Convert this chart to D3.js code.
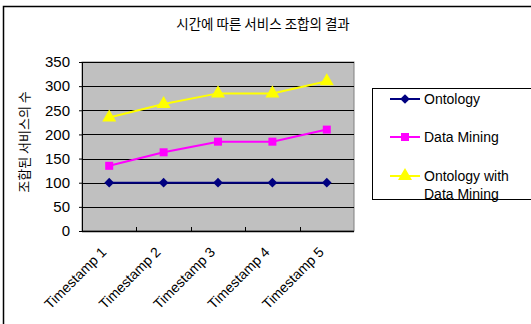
<!DOCTYPE html>
<html>
<head>
<meta charset="utf-8">
<script src="https://cdn.jsdelivr.net/npm/d3@7"></script>
<style>
  body { margin: 0; background: #fff; }
  svg { display: block; }
  text { font-family: "Liberation Sans", Arial, sans-serif; fill: #000; }
  .kr { font-family: "Noto Sans CJK KR", sans-serif; }
</style>
</head>
<body>
<svg id="chart" width="531" height="324"></svg>
<script>
// dati
var categorie = ["Timestamp 1", "Timestamp 2", "Timestamp 3", "Timestamp 4", "Timestamp 5"];
var ontology = [100, 100, 100, 100, 100];
var dataMining = [135, 163, 185, 185, 210];
var ontologyDM = [235, 263, 285, 285, 310];
var yTicks = [0, 50, 100, 150, 200, 250, 300, 350];
var titolo = "시간에 따른 서비스 조합의 결과";
var titoloY = "조합된 서비스의 수";

var serie = [
    { nome: ["Ontology"], valori: ontology, colore: "#000080", marker: "diamond" },
    { nome: ["Data Mining"], valori: dataMining, colore: "#FF00FF", marker: "square" },
    { nome: ["Ontology with", "Data Mining"], valori: ontologyDM, colore: "#FFFF00", marker: "triangle" }
];

const svg = d3.select("#chart");

// bordo esterno
svg.append("rect")
    .attr("x", 3.5).attr("y", 6.5)
    .attr("width", 540).attr("height", 330)
    .attr("fill", "none").attr("stroke", "#000").attr("stroke-width", 1.5);

const pLeft = 82, pRight = 354, pTop = 62, pBottom = 231;

const x = d3.scaleBand().domain(categorie).range([pLeft, pRight]);
const y = d3.scaleLinear().domain([0, 350]).range([pBottom, pTop]);

// area del grafico
svg.append("rect")
    .attr("x", pLeft).attr("y", pTop)
    .attr("width", pRight - pLeft).attr("height", pBottom - pTop)
    .attr("fill", "#C0C0C0").attr("stroke", "#808080");

// griglia
svg.append("g").selectAll("line")
    .data(yTicks.filter(d => d > 0))
    .join("line")
    .attr("x1", pLeft).attr("x2", pRight)
    .attr("y1", d => Math.round(y(d)) + 0.5).attr("y2", d => Math.round(y(d)) + 0.5)
    .attr("stroke", "#000");

// asse Y
const yAxis = svg.append("g")
    .attr("transform", "translate(" + pLeft + ",0)")
    .call(d3.axisLeft(y).tickValues(yTicks).tickSize(3).tickPadding(9));
yAxis.select(".domain").attr("stroke", "#000");
yAxis.selectAll("text").style("font-size", "15px").style("font-family", "Liberation Sans, Arial, sans-serif");

// asse X
svg.append("line")
    .attr("x1", pLeft).attr("x2", pRight)
    .attr("y1", pBottom + 0.5).attr("y2", pBottom + 0.5)
    .attr("stroke", "#000").attr("stroke-width", 1.5);
svg.append("g").selectAll("line")
    .data(categorie.slice(1))
    .join("line")
    .attr("x1", d => Math.round(x(d)) + 0.5).attr("x2", d => Math.round(x(d)) + 0.5)
    .attr("y1", pBottom).attr("y2", pBottom - 4)
    .attr("stroke", "#000");

svg.append("g").selectAll("text")
    .data(categorie)
    .join("text")
    .attr("text-anchor", "end")
    .attr("transform", d => "translate(" + (x(d) + x.bandwidth() / 2 - 2) + "," + (pBottom + 22) + ") rotate(-45)")
    .style("font-size", "14px")
    .text(d => d);

// titoli
svg.append("text")
    .attr("class", "kr")
    .attr("x", 263).attr("y", 29)
    .attr("text-anchor", "middle")
    .style("font-size", "13.5px")
    .text(titolo);

svg.append("text")
    .attr("class", "kr")
    .attr("transform", "translate(29,142) rotate(-90)")
    .attr("text-anchor", "middle")
    .style("font-size", "13px")
    .text(titoloY);

// simboli
function simbolo(tipo) {
    if (tipo == "diamond") return d3.symbol().type(d3.symbolDiamond2).size(60)();
    if (tipo == "square") return d3.symbol().type(d3.symbolSquare).size(64)();
    return d3.symbol().type(d3.symbolTriangle).size(85)();
}

const lineGenerator = d3.line()
    .x((d, i) => x(categorie[i]) + x.bandwidth() / 2)
    .y(d => y(d));

serie.forEach(function (s) {
    svg.append("path")
        .attr("d", lineGenerator(s.valori))
        .attr("fill", "none")
        .attr("stroke", s.colore)
        .attr("stroke-width", 2);
    svg.append("g").selectAll("path")
        .data(s.valori)
        .join("path")
        .attr("d", simbolo(s.marker))
        .attr("transform", (d, i) => "translate(" + (x(categorie[i]) + x.bandwidth() / 2) + "," + y(d) + ")")
        .attr("fill", s.colore);
});

// legenda
svg.append("rect")
    .attr("x", 372.5).attr("y", 88.5)
    .attr("width", 200).attr("height", 111)
    .attr("fill", "#fff").attr("stroke", "#000");

const legY = [99, 137, 176];
serie.forEach(function (s, i) {
    const g = svg.append("g").attr("transform", "translate(0," + legY[i] + ")");
    g.append("line")
        .attr("x1", 390).attr("x2", 420)
        .attr("y1", 0).attr("y2", 0)
        .attr("stroke", s.colore).attr("stroke-width", 2);
    g.append("path")
        .attr("d", simbolo(s.marker))
        .attr("transform", "translate(405,0)")
        .attr("fill", s.colore);
    g.selectAll("text")
        .data(s.nome)
        .join("text")
        .attr("x", 424)
        .attr("y", (d, j) => 5 + j * 18)
        .style("font-size", "14px")
        .text(d => d);
});
</script>
</body>
</html>
